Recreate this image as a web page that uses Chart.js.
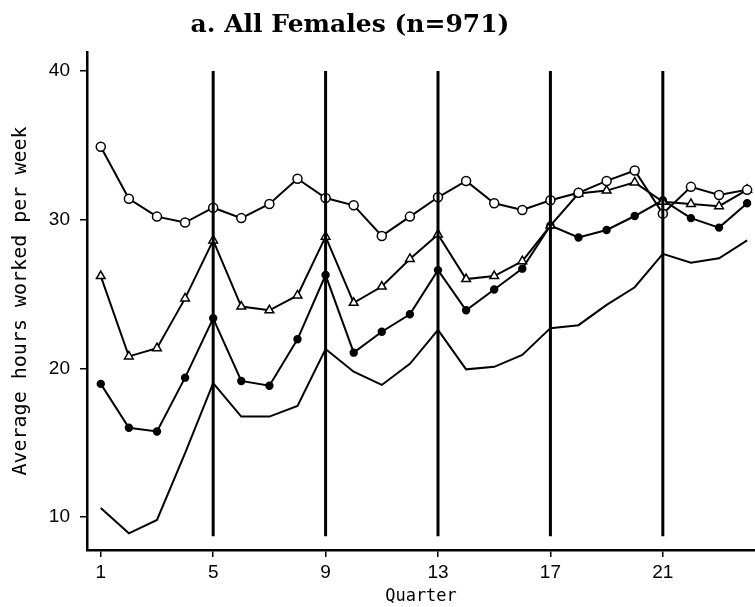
<!DOCTYPE html>
<html>
<head>
<meta charset="utf-8">
<script src="https://cdn.jsdelivr.net/npm/chart.js@4"></script>
<style>
  html, body { margin: 0; padding: 0; background: #fff; }
  #wrap { width: 755px; height: 607px; position: relative; }
</style>
</head>
<body>
<div id="wrap"><canvas id="chart"></canvas></div>
<script>
// quarters 1..24
const quarters = [1, 2, 3, 4, 5, 6, 7, 8, 9, 10, 11, 12, 13, 14, 15, 16, 17, 18, 19, 20, 21, 22, 23, 24];

// four series (hours per week)
const openCircles = [34.9, 31.4, 30.2, 29.8, 30.8, 30.1, 31.05, 32.75, 31.45, 30.96, 28.9, 30.2,
                     31.5, 32.6, 31.1, 30.65, 31.3, 31.8, 32.6, 33.3, 30.4, 32.2, 31.65, 32.0];
const triangles = [26.2, 20.8, 21.35, 24.7, 28.6, 24.15, 23.9, 24.9, 28.85, 24.4, 25.5, 27.35,
                   29.0, 26.0, 26.2, 27.2, 29.6, 31.75, 31.95, 32.5, 31.2, 31.05, 30.9, 32.0];
const filledDots = [18.95, 16.0, 15.75, 19.37, 23.36, 19.15, 18.83, 21.95, 26.27, 21.05, 22.46, 23.63,
                    26.6, 23.9, 25.3, 26.7, 29.6, 28.8, 29.3, 30.24, 31.3, 30.1, 29.46, 31.1];
const plainLine = [10.6, 8.9, 9.8, 14.3, 19.0, 16.75, 16.75, 17.46, 21.3, 19.77, 18.88, 20.3,
                   22.58, 19.93, 20.1, 20.9, 22.7, 22.9, 24.26, 25.45, 27.7, 27.1, 27.4, 28.6];

// vertical marker lines
const markerQuarters = [5, 9, 13, 17, 21];
const markerRange = [8.7, 40];

const xTicks = [1, 5, 9, 13, 17, 21];
const yTicks = [10, 20, 30, 40];

const chartTitle = 'a. All Females (n=971)';

function toPoints(values) {
    return values.map((v, i) => ({ x: quarters[i], y: v }));
}

const datasets = [];

markerQuarters.forEach(q => {
    datasets.push({
        data: markerRange.map(v => ({ x: q, y: v })),
        borderColor: '#000',
        borderWidth: 3,
        pointRadius: 0,
        order: 0,
    });
});

datasets.push({
    data: toPoints(plainLine),
    borderColor: '#000',
    borderWidth: 2,
    pointRadius: 0,
    order: 4,
});
datasets.push({
    data: toPoints(filledDots),
    borderColor: '#000',
    borderWidth: 2,
    pointRadius: 3.2,
    pointBackgroundColor: '#000',
    pointBorderColor: '#000',
    order: 3,
});
datasets.push({
    data: toPoints(triangles),
    borderColor: '#000',
    borderWidth: 2,
    pointStyle: 'triangle',
    pointRadius: 5,
    pointBorderWidth: 1.5,
    pointBackgroundColor: '#fff',
    pointBorderColor: '#000',
    order: 2,
});
datasets.push({
    data: toPoints(openCircles),
    borderColor: '#000',
    borderWidth: 2,
    pointRadius: 4.5,
    pointBorderWidth: 1.5,
    pointBackgroundColor: '#fff',
    pointBorderColor: '#000',
    order: 1,
});

// title sits left of centre in the original, so draw it by hand
const titlePlugin = {
    id: 'offsetTitle',
    afterDraw(chart) {
        const ctx = chart.ctx;
        ctx.save();
        ctx.fillStyle = '#000';
        ctx.font = "bold 25px 'DejaVu Serif', serif";
        ctx.textAlign = 'center';
        ctx.textBaseline = 'alphabetic';
        ctx.fillText(chartTitle, 350, 32);
        ctx.restore();
    }
};

const tickFont = { family: "'Liberation Sans', sans-serif", size: 19 };
const plotFont = "'DejaVu Sans Mono', monospace";

new Chart(document.getElementById('chart'), {
    type: 'line',
    data: { datasets: datasets },
    plugins: [titlePlugin],
    options: {
        responsive: true,
        maintainAspectRatio: false,
        animation: false,
        layout: { padding: { top: 52, right: 0, bottom: 0, left: 0 }, autoPadding: false },
        plugins: {
            legend: { display: false },
            tooltip: { enabled: false },
            title: { display: false },
        },
        scales: {
            x: {
                type: 'linear',
                min: 0.51,
                max: 24.28,
                afterBuildTicks: s => { s.ticks = xTicks.map(v => ({ value: v })); },
                afterFit: s => { s.height = 57; },
                ticks: { color: '#000', font: tickFont, padding: 4, maxRotation: 0 },
                grid: { drawOnChartArea: false, drawTicks: true, tickLength: 7, color: '#000', lineWidth: 1.5 },
                border: { color: '#000', width: 2.5 },
                title: {
                    display: true,
                    text: 'Quarter',
                    color: '#000',
                    font: { family: plotFont, size: 17 },
                    padding: { top: 0, bottom: 0 },
                },
            },
            y: {
                min: 7.78,
                max: 41.27,
                afterBuildTicks: s => { s.ticks = yTicks.map(v => ({ value: v })); },
                afterFit: s => { s.width = 87; },
                ticks: { color: '#000', font: tickFont, padding: 10 },
                grid: { drawOnChartArea: false, drawTicks: true, tickLength: 7, color: '#000', lineWidth: 1.5 },
                border: { color: '#000', width: 2.5 },
                title: {
                    display: true,
                    text: 'Average hours worked per week',
                    color: '#000',
                    font: { family: plotFont, size: 20 },
                    padding: { top: 9, bottom: 0 },
                },
            },
        },
    },
});
</script>
</body>
</html>
